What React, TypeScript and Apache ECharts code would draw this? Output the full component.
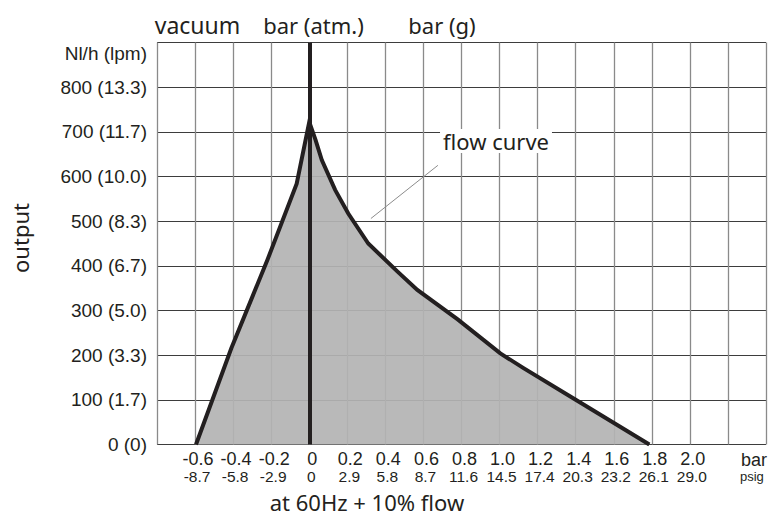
import React, { useEffect, useRef } from "react";
import * as echarts from "echarts";

// pressure ticks (bar) and their psig equivalents
const xTickValues = [-0.6, -0.4, -0.2, 0, 0.2, 0.4, 0.6, 0.8, 1.0, 1.2, 1.4, 1.6, 1.8, 2.0];
const xBarLabels = ["-0.6", "-0.4", "-0.2", "0", "0.2", "0.4", "0.6", "0.8", "1.0", "1.2", "1.4", "1.6", "1.8", "2.0"];
const xPsigLabels = ["-8.7", "-5.8", "-2.9", "0", "2.9", "5.8", "8.7", "11.6", "14.5", "17.4", "20.3", "23.2", "26.1", "29.0"];

// output ticks
const yTickValues = [0, 100, 200, 300, 400, 500, 600, 700, 800, 900];
const yLabels = ["0 (0)", "100 (1.7)", "200 (3.3)", "300 (5.0)", "400 (6.7)", "500 (8.3)", "600 (10.0)", "700 (11.7)", "800 (13.3)", "Nl/h (lpm)"];

// flow curve
const curveX = [-0.595, -0.41, -0.22, -0.066, 0, 0.033, 0.066, 0.136, 0.205, 0.31, 0.464, 0.568, 0.78, 1.004, 1.126, 1.4, 1.787];
const curveY = [0, 215, 413, 584, 722, 682, 637, 570, 517, 450, 387, 346, 280, 204, 171, 100, 0];

// leader line of the "flow curve" annotation (data space)
const leaderFrom = [0.324, 506];
const leaderTo = [0.676, 625];

const INK = "#231f20";
const SANS = "'Liberation Sans', Arial, sans-serif";
const TITLE = "'Noto Sans', 'Open Sans', sans-serif";

export default function App() {
  const ref = useRef<HTMLDivElement>(null);

  useEffect(() => {
    document.body.style.margin = "0";
    if (!ref.current) return;
    const chart = echarts.init(ref.current, null, { renderer: "svg" });

    const curveData = curveX.map((x, i) => [x, curveY[i]]);

    chart.setOption({
      animation: false,
      backgroundColor: "#ffffff",
      grid: { left: 157, right: 0, top: 42.5, bottom: 71.5, containLabel: false },
      xAxis: {
        type: "value",
        min: -0.8,
        max: 2.4,
        interval: 0.2,
        axisLine: { show: false },
        axisTick: { show: false },
        splitLine: { show: true, lineStyle: { color: "#8a8a8a", width: 1.3 } },
        axisLabel: {
          margin: 5,
          showMinLabel: true,
          showMaxLabel: true,
          formatter: (v: number) => {
            const i = Math.round((v + 0.6) / 0.2);
            if (i < 0 || i >= xTickValues.length || Math.abs(v - xTickValues[i]) > 1e-6) return "";
            return `{a|${xBarLabels[i]}}\n{b|${xPsigLabels[i]}}`;
          },
          rich: {
            a: { fontFamily: SANS, fontSize: 18, lineHeight: 18, color: INK, align: "center", padding: [0, 0, 0, 6] },
            b: { fontFamily: SANS, fontSize: 15.5, lineHeight: 18, color: INK, align: "center", padding: [0, 0, 0, 4] },
          },
        },
      },
      yAxis: {
        type: "value",
        min: 0,
        max: 900,
        interval: 100,
        axisLine: { show: false },
        axisTick: { show: false },
        splitLine: { show: true, lineStyle: { color: "#3d3d3d", width: 1 } },
        axisLabel: {
          margin: 10,
          showMinLabel: true,
          showMaxLabel: true,
          fontFamily: SANS,
          fontSize: 19,
          color: INK,
          formatter: (v: number) => {
            const i = yTickValues.indexOf(Math.round(v));
            if (i < 0) return "";
            if (i === yTickValues.length - 1) return `{t|${yLabels[i]}}`;
            return yLabels[i];
          },
          rich: {
            t: { fontFamily: SANS, fontSize: 19, color: INK, padding: [22, 0, 0, 0] },
          },
        },
      },
      series: [
        {
          type: "line",
          data: curveData,
          symbol: "none",
          z: 3,
          lineStyle: { color: INK, width: 4, join: "miter", miterLimit: 10 },
          areaStyle: { color: "#b3b3b3", opacity: 0.92, origin: "start" },
          markLine: {
            silent: true,
            symbol: ["none", "none"],
            label: { show: false },
            lineStyle: { color: INK, width: 4, type: "solid" },
            data: [{ xAxis: 0 }],
          },
        },
        {
          type: "line",
          data: [],
          markLine: {
            silent: true,
            symbol: ["none", "none"],
            label: { show: false },
            lineStyle: { color: "#8c8c8c", width: 1, type: "solid" },
            data: [[{ coord: leaderFrom }, { coord: leaderTo }]],
          },
        },
      ],
      graphic: [
        {
          type: "text",
          z: 10,
          style: { text: "vacuum", x: 197.5, y: 25, fill: INK, font: `23px ${TITLE}`, textAlign: "center", textVerticalAlign: "middle" },
        },
        {
          type: "text",
          z: 10,
          style: { text: "bar (atm.)", x: 313.5, y: 25, fill: INK, font: `22px ${TITLE}`, textAlign: "center", textVerticalAlign: "middle" },
        },
        {
          type: "text",
          z: 10,
          style: { text: "bar (g)", x: 442, y: 25, fill: INK, font: `22px ${TITLE}`, textAlign: "center", textVerticalAlign: "middle" },
        },
        {
          type: "text",
          z: 10,
          style: {
            text: "flow curve",
            x: 496,
            y: 141,
            fill: INK,
            font: `22px ${TITLE}`,
            textAlign: "center",
            textVerticalAlign: "middle",
            backgroundColor: "#ffffff",
            padding: [1, 3],
          },
        },
        {
          type: "text",
          z: 10,
          style: { text: "at 60Hz + 10% flow", x: 367, y: 502, fill: INK, font: `22px ${TITLE}`, textAlign: "center", textVerticalAlign: "middle" },
        },
        {
          type: "text",
          z: 10,
          x: 20,
          y: 238,
          rotation: Math.PI / 2,
          style: { text: "output", x: 0, y: 0, fill: INK, font: `22px ${TITLE}`, textAlign: "center", textVerticalAlign: "middle" },
        },
        {
          type: "text",
          z: 10,
          style: { text: "bar", x: 741, y: 460, fill: INK, font: `18px ${SANS}`, textAlign: "left", textVerticalAlign: "middle" },
        },
        {
          type: "text",
          z: 10,
          style: { text: "psig", x: 740, y: 476, fill: INK, font: `13px ${SANS}`, textAlign: "left", textVerticalAlign: "middle" },
        },
      ],
    });

    return () => chart.dispose();
  }, []);

  return <div ref={ref} style={{ width: 769, height: 516 }} />;
}
